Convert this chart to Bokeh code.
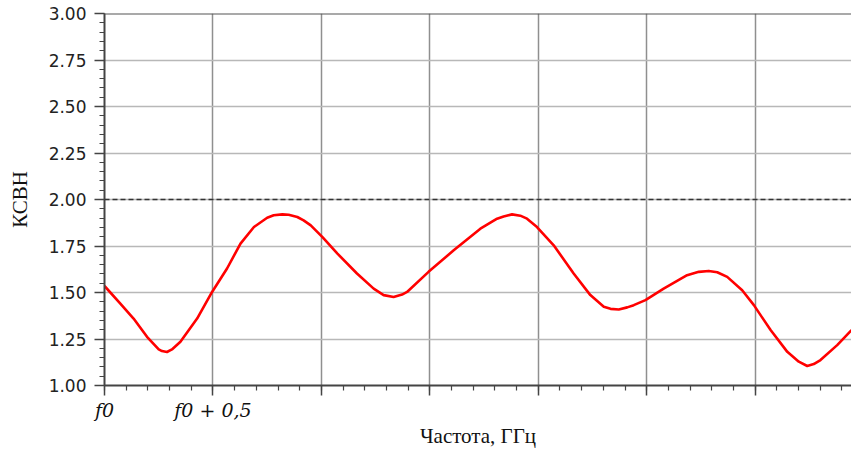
from bokeh.plotting import figure
from bokeh.models import FixedTicker, PrintfTickFormatter, Span, Range1d
from bokeh.embed import file_html
from bokeh.resources import INLINE

# Frequency offset from f0, GHz
freq = [0.0, 0.072, 0.134, 0.196, 0.25, 0.265, 0.288, 0.311, 0.35, 0.427,
        0.496, 0.565, 0.627, 0.689, 0.75, 0.78, 0.82, 0.849, 0.889, 0.918,
        0.951, 1.005, 1.074, 1.164, 1.241, 1.287, 1.333, 1.372, 1.395, 1.494,
        1.61, 1.733, 1.81, 1.84, 1.879, 1.917, 1.948, 1.994, 2.071, 2.163,
        2.24, 2.302, 2.333, 2.371, 2.41, 2.44, 2.494, 2.578, 2.686, 2.74,
        2.786, 2.825, 2.871, 2.94, 2.994, 3.071, 3.148, 3.201, 3.24, 3.27,
        3.301, 3.378, 3.444]
# VSWR (КСВН)
vswr = [1.535, 1.441, 1.36, 1.262, 1.194, 1.185, 1.18, 1.194, 1.235, 1.36,
        1.503, 1.629, 1.763, 1.852, 1.902, 1.915, 1.92, 1.918, 1.906, 1.888,
        1.861, 1.798, 1.709, 1.602, 1.521, 1.486, 1.476, 1.489, 1.503, 1.611,
        1.727, 1.843, 1.897, 1.909, 1.92, 1.913, 1.897, 1.852, 1.754, 1.602,
        1.486, 1.423, 1.412, 1.409, 1.42, 1.432, 1.459, 1.521, 1.593, 1.611,
        1.616, 1.609, 1.584, 1.512, 1.432, 1.298, 1.181, 1.128, 1.105, 1.115,
        1.137, 1.217, 1.298]

threshold = 2.0
x_major = [0.0, 0.5, 1.0, 1.5, 2.0, 2.5, 3.0]
x_labels = ["f0", "f0\u00a0+\u00a00,5", "", "", "", "", ""]
x_minor = [round(i * 0.1, 1) for i in range(0, 35)]
y_major = [1.0, 1.25, 1.5, 1.75, 2.0, 2.25, 2.5, 2.75, 3.0]
y_minor = [round(1 + i * 0.05, 2) for i in range(0, 41)]

p = figure(width=851, height=452, output_backend="svg", toolbar_location=None,
           x_range=Range1d(0, 3.444), y_range=Range1d(1.0, 3.0),
           min_border_left=104, min_border_right=0, min_border_top=13,
           min_border_bottom=67)
p.outline_line_color = None
p.background_fill_color = "white"
p.border_fill_color = "white"

p.line(freq, vswr, line_color="#ff0000", line_width=2.6, line_join="round")

p.add_layout(Span(location=threshold, dimension="width", line_color="#333333",
                  line_width=1.5, line_dash="5 3"))
p.add_layout(Span(location=3.0, dimension="width", line_color="#555555",
                  line_width=2))

xa = p.xaxis[0]
xa.ticker = FixedTicker(ticks=x_major, minor_ticks=x_minor)
xa.major_label_overrides = {k: v for k, v in zip(x_major, x_labels)}
xa.major_label_text_font = "DejaVu Serif"
xa.major_label_text_font_style = "italic"
xa.major_label_text_font_size = "19px"
xa.major_label_text_color = "#111111"
xa.major_label_standoff = 3
xa.axis_label = "Частота, ГГц"
xa.axis_label_text_font = "Liberation Serif"
xa.axis_label_text_font_style = "normal"
xa.axis_label_text_font_size = "21px"
xa.axis_label_text_color = "#111111"
xa.axis_label_standoff = 0

ya = p.yaxis[0]
ya.ticker = FixedTicker(ticks=y_major, minor_ticks=y_minor)
ya.formatter = PrintfTickFormatter(format="%.2f")
ya.major_label_text_font = "DejaVu Sans"
ya.major_label_text_font_size = "17px"
ya.major_label_text_color = "#222222"
ya.major_label_standoff = 8
ya.axis_label = "КСВН"
ya.axis_label_text_font = "Liberation Serif"
ya.axis_label_text_font_style = "normal"
ya.axis_label_text_font_size = "21px"
ya.axis_label_text_color = "#111111"
ya.axis_label_standoff = 14

for ax in (xa, ya):
    ax.axis_line_color = "#444444"
    ax.axis_line_width = 2
    ax.major_tick_line_color = "#444444"
    ax.major_tick_line_width = 1.5
    ax.minor_tick_line_color = "#444444"
    ax.minor_tick_line_width = 1.2
    ax.major_tick_in = 0
    ax.major_tick_out = 10
    ax.minor_tick_in = 0
    ax.minor_tick_out = 5

p.xgrid.grid_line_color = "#8f8f8f"
p.xgrid.grid_line_width = 1.5
p.ygrid.grid_line_color = "#b8b8b8"
p.ygrid.grid_line_width = 1.5

open("out.html", "w").write(file_html(p, INLINE))
